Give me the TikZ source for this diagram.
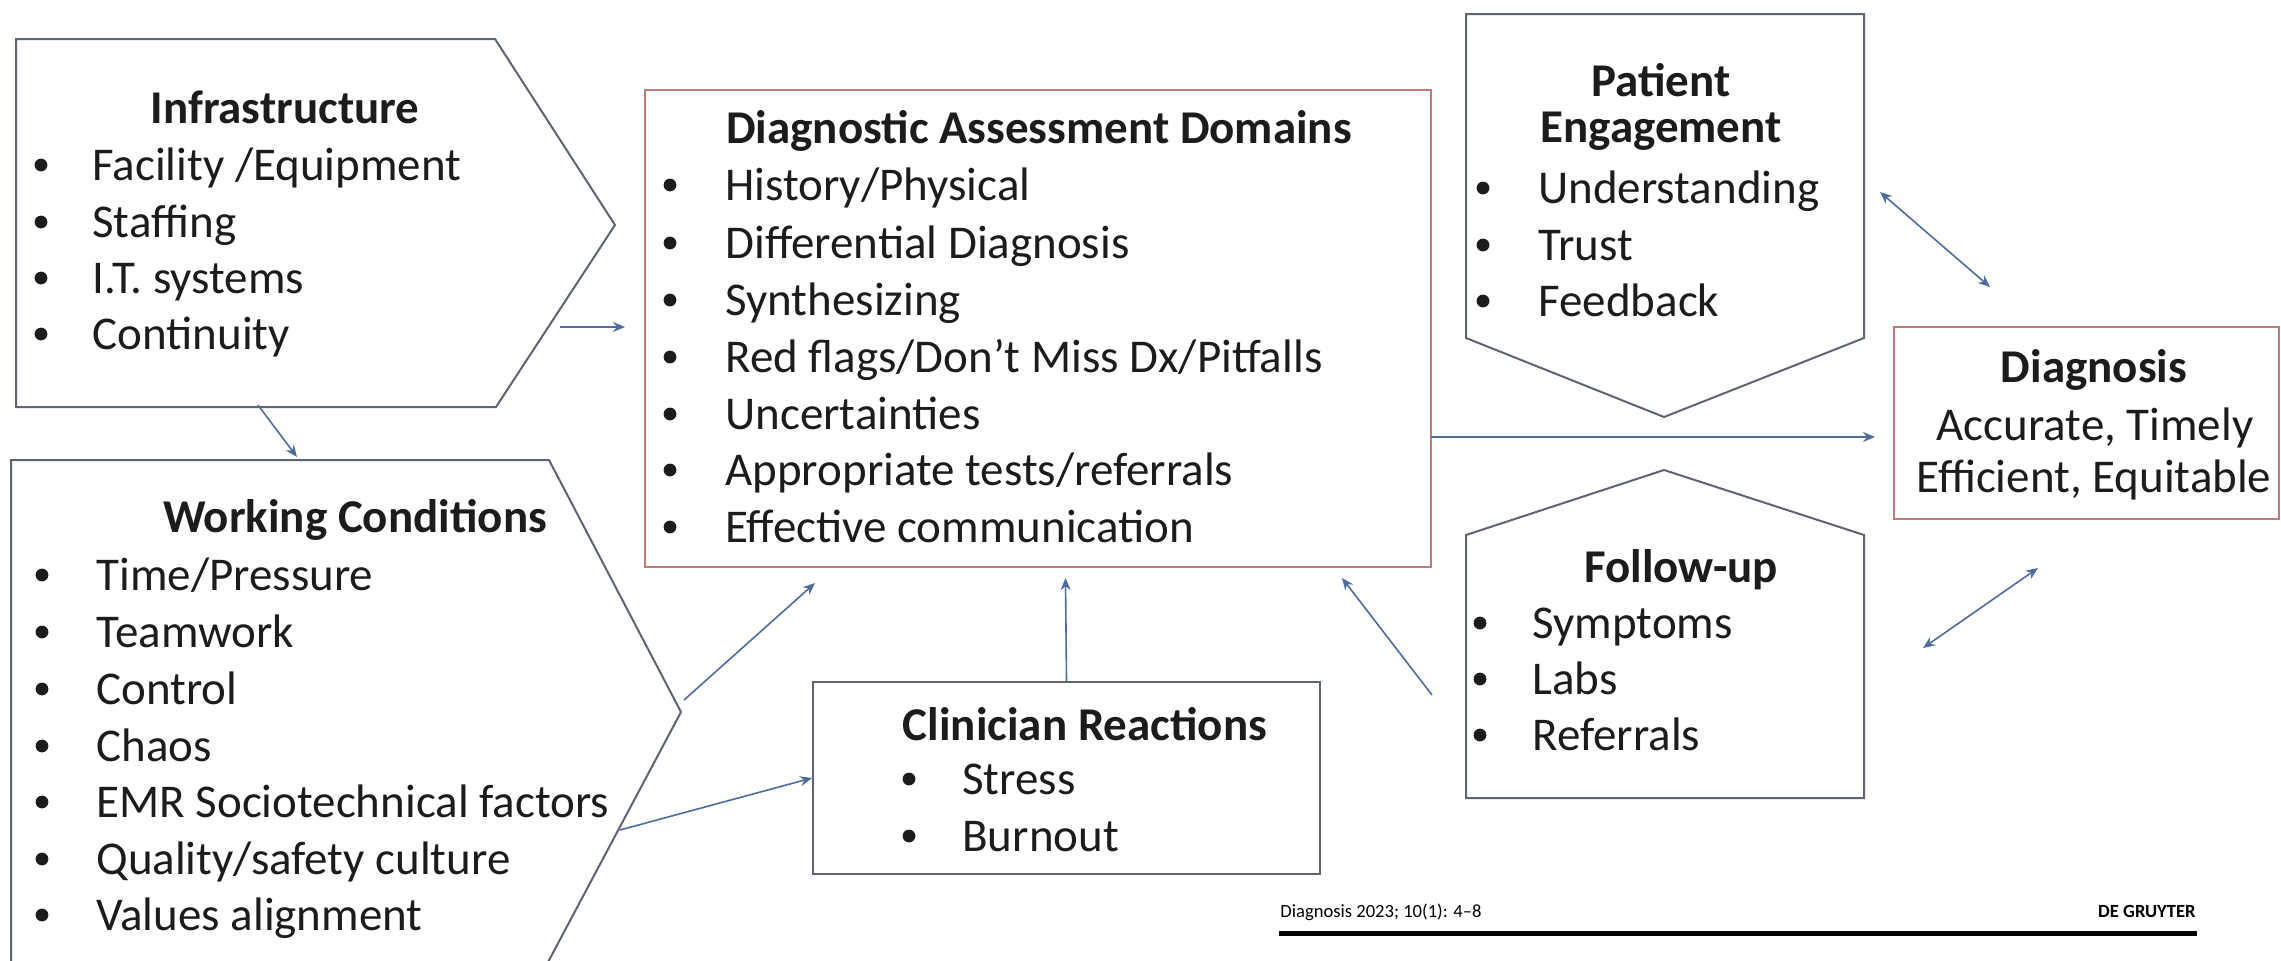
\documentclass[tikz,border=0pt]{standalone}
\usepackage{fontspec}
\setmainfont{Carlito}
\usetikzlibrary{arrows.meta,calc}
\definecolor{boxgray}{HTML}{5E6472}
\definecolor{boxred}{HTML}{C07A7A}
\definecolor{arr}{HTML}{4F6C9C}
\definecolor{txt}{HTML}{1C1C1C}
\begin{document}
\begin{tikzpicture}[x=0.5pt,y=-0.5pt,
  chev/.style={draw=boxgray, line width=1pt, line join=miter},
  graybox/.style={draw=boxgray, line width=1pt, inner sep=0, anchor=north west},
  redbox/.style={draw=boxred, line width=1pt, inner sep=0, anchor=north west},
  ttl/.style={font=\fontsize{23.5}{27}\selectfont\bfseries, text=txt, inner sep=0},
  itm/.style={font=\fontsize{23.5}{27}\selectfont, text=txt, inner sep=0, anchor=mid west},
  dot/.style={circle, fill=txt, inner sep=0, minimum size=6.4pt, yshift=5.5pt},
  plain/.style={font=\fontsize{23.5}{27}\selectfont, text=txt, inner sep=0},
  conn/.style={draw=arr, line width=0.8pt, -{Stealth[length=6pt,width=5pt]}},
  dconn/.style={draw=arr, line width=0.8pt, {Stealth[length=6pt,width=5pt]}-{Stealth[length=6pt,width=5pt]}},
  foot/.style={font=\fontsize{9.3}{11}\selectfont, text=black, inner sep=0}
]
\clip (0,0) rectangle (2281,960);
\useasboundingbox (0,0) rectangle (2281,960);
\fill[white] (0,0) rectangle (2281,960);

% ---------- Infrastructure ----------
\draw[chev] (16,39) -- (495,39) -- (615,225) -- (496,407) -- (16,407) -- cycle;
\node[ttl] (infT) at (285,107) {Infrastructure};
\foreach \y/\t [count=\i] in {176/{Facility /Equipment},233/{Staffing},289/{I.T. systems},345/{Continuity}}{
  \node[dot] (infB\i) at (41,\y) {};
  \node[itm] (infI\i) at (92,\y) {\t};
}

% ---------- Working Conditions ----------
\draw[chev] (11,460) -- (549,460) -- (681,712) -- (547,964) -- (11,964) -- cycle;
\node[ttl] (wrkT) at (355,520) {Working Conditions};
\foreach \y/\t [count=\i] in {586/{Time/Pressure},643/{Teamwork},700/{Control},757/{Chaos},813/{EMR Sociotechnical factors},870/{Quality/safety culture},926/{Values alignment}}{
  \node[dot] (wrkB\i) at (42,\y) {};
  \node[itm] (wrkI\i) at (96,\y) {\t};
}

% ---------- Diagnostic Assessment Domains ----------
\node[redbox, minimum width=393pt, minimum height=238.5pt] (dom) at (644,89) {};
\node[ttl] (domT) at (1039,131) {Diagnostic Assessment Domains};
\foreach \y/\t [count=\i] in {196/{History/Physical},254/{Differential Diagnosis},311/{Synthesizing},368/{Red flags/Don’t Miss Dx/Pitfalls},425/{Uncertainties},481/{Appropriate tests/referrals},538/{Effective communication}}{
  \node[dot] (domB\i) at (670,\y) {};
  \node[itm] (domI\i) at (725,\y) {\t};
}

% ---------- Clinician Reactions ----------
\node[graybox, minimum width=253.5pt, minimum height=96pt] (cli) at (812,681) {};
\node[ttl] (cliT) at (1085,724) {Clinician Reactions};
\foreach \y/\t [count=\i] in {790/{Stress},847/{Burnout}}{
  \node[dot] (cliB\i) at (909,\y) {};
  \node[itm] (cliI\i) at (962,\y) {\t};
}

% ---------- Patient Engagement ----------
\draw[chev] (1466,14) -- (1864,14) -- (1864,338) -- (1664,417) -- (1466,338) -- cycle;
\node[ttl] (patT1) at (1661,80) {Patient};
\node[ttl] (patT2) at (1661,131) {Engagement};
\foreach \y/\t [count=\i] in {199/{Understanding},256/{Trust},312/{Feedback}}{
  \node[dot] (patB\i) at (1483,\y) {};
  \node[itm] (patI\i) at (1538,\y) {\t};
}

% ---------- Follow-up ----------
\draw[chev] (1466,535) -- (1664,470) -- (1864,535) -- (1864,798) -- (1466,798) -- cycle;
\node[ttl] (fupT) at (1681,570) {Follow-up};
\foreach \y/\t [count=\i] in {634/{Symptoms},690/{Labs},746/{Referrals}}{
  \node[dot] (fupB\i) at (1480,\y) {};
  \node[itm] (fupI\i) at (1532,\y) {\t};
}

% ---------- Diagnosis ----------
\node[redbox, minimum width=192.5pt, minimum height=96pt] (dia) at (1893,326) {};
\node[ttl] (diaT) at (2094,370) {Diagnosis};
\node[plain] (diaL1) at (2095,428) {Accurate, Timely};
\node[plain] (diaL2) at (2094,480) {Efficient, Equitable};

% ---------- connector end points ----------
\coordinate (infOut) at (560,327);
\coordinate (domIn) at (625,327);
\coordinate (infDown) at (258,405);
\coordinate (wrkIn) at (297,457);
\coordinate (wrkUp) at (684,700);
\coordinate (domBL) at (815,583);
\coordinate (wrkLow) at (620,830);
\coordinate (domBM) at (1065.5,578);
\coordinate (fupOut) at (1432,695);
\coordinate (domBR) at (1342,578);
\coordinate (domOut) at (1431,437);
\coordinate (diaIn) at (1875,437);
\coordinate (patA) at (1880,192);
\coordinate (diaA) at (1990,287);
\coordinate (fupA) at (1923,648);
\coordinate (diaB) at (2038,568);

\draw[conn] (infOut) -- (domIn);
\draw[conn] (infDown) -- (wrkIn);
\draw[conn] (wrkUp) -- (domBL);
\draw[conn] (wrkLow) -- (cli.west);
\draw[conn] (cli.north) -- (domBM);
\draw[conn] (fupOut) -- (domBR);
\draw[conn] (domOut) -- (diaIn);
\draw[dconn] (patA) -- (diaA);
\draw[dconn] (fupA) -- (diaB);

% ---------- footer ----------
\fill[white] (1247,875) rectangle (2281,960);
\node[foot, anchor=mid west] (ftL) at (1280,913) {Diagnosis 2023; 10(1): 4–8};
\node[foot, anchor=mid east, font=\fontsize{9.3}{11}\selectfont\bfseries] (ftR) at (2196,913) {DE GRUYTER};
\draw[line width=2.5pt, black] (1279,933) -- (2197,933);
\end{tikzpicture}
\end{document}
